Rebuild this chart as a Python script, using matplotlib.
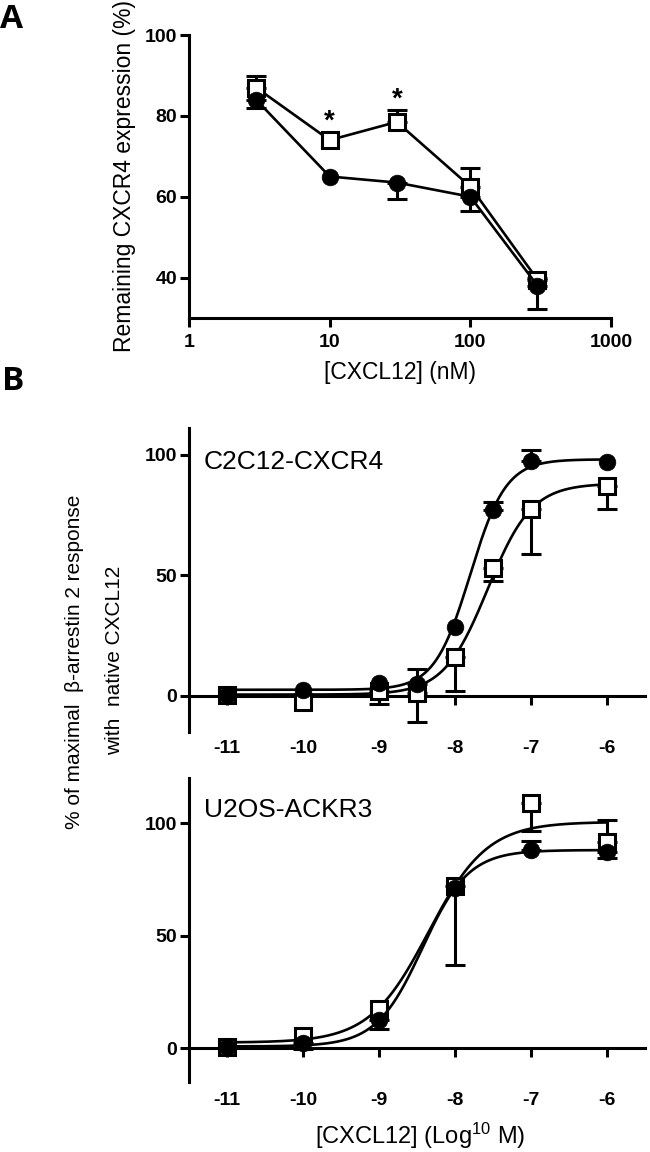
import numpy as np
import matplotlib
matplotlib.use("Agg")
import matplotlib.pyplot as plt
from matplotlib import font_manager

# ---------------- data ----------------
# Panel A
a_conc = [3, 10, 30, 100, 300]
a_sq = [87, 74, 78.5, 62.5, 39.5]
a_sq_hi = [2.8, 0, 3, 4.5, 0.5]
a_ci = [84, 65, 63.5, 60, 38]
a_ci_lo = [2, 0, 4, 3.5, 5.8]
a_star_x = [10, 30]
a_star_y = [78.5, 84]
a_xticks = [1, 10, 100, 1000]
a_yticks = [40, 60, 80, 100]

# Panel B top (C2C12-CXCR4)
b1_logc = [-11, -10, -9, -8.5, -8, -7.5, -7, -6]
b1_ci = [0.5, 2.5, 5.5, 5, 28.5, 77, 97.5, 97]
b1_ci_hi = [0, 0, 0, 6, 0, 3.2, 4.5, 0]
b1_sq = [0.5, -2.5, 2, 1, 16, 53, 77.5, 87]
b1_sq_lo = [0, 0, 5.5, 12, 13.8, 5.3, 18.6, 9.5]
# fitted 4PL parameters (bottom, top, logEC50, hill)
b1_ci_fit = (2.5, 98, -7.8, 1.85)
b1_sq_fit = (0.5, 88, -7.57, 1.5)

# Panel B bottom (U2OS-ACKR3)
b2_logc = [-11, -10, -9, -8, -7, -6]
b2_ci = [0.5, 2.5, 12.5, 71, 88, 87]
b2_ci_lo = [0, 3, 4, 0, 0, 2.5]
b2_ci_hi = [0, 0, 0, 0, 4, 0]
b2_sq = [0.5, 5.5, 17.5, 72, 109, 91.5]
b2_sq_lo = [0, 0, 0, 35, 12.5, 0]
b2_sq_hi = [0, 0, 0, 0, 0, 10]
b2_ci_fit = (0.8, 88, -8.43, 1.43)
b2_sq_fit = (2.5, 100.5, -8.35, 1.12)

b_xticks = [-11, -10, -9, -8, -7, -6]
b_yticks = [0, 50, 100]

# ---------------- style ----------------
names = {f.name for f in font_manager.fontManager.ttflist}
FONT = "Liberation Sans" if "Liberation Sans" in names else "DejaVu Sans"
PANEL_FONT = "Open Sans" if "Open Sans" in names else FONT
plt.rcParams["font.family"] = [FONT, "DejaVu Sans"]
plt.rcParams["mathtext.fontset"] = "custom"
plt.rcParams["mathtext.rm"] = FONT
plt.rcParams["mathtext.it"] = FONT + ":italic"
plt.rcParams["mathtext.bf"] = FONT + ":bold"

W, H = 650, 1152
fig = plt.figure(figsize=(W / 100, H / 100), dpi=100)

def add_ax(left, top, right, bottom):
    return fig.add_axes([left / W, 1 - bottom / H, (right - left) / W, (bottom - top) / H])

def ftxt(x, y, s, **kw):
    fig.text(x / W, 1 - y / H, s, **kw)

LW = 2.2
TICKFS = 14
MS_SQ = 11.5
MS_CI = 12

def style(ax):
    for s in ["top", "right"]:
        ax.spines[s].set_visible(False)
    for s in ["left", "bottom"]:
        ax.spines[s].set_linewidth(LW)
    ax.tick_params(width=LW, length=6.5, direction="out", labelsize=TICKFS)
    for lab in ax.get_xticklabels() + ax.get_yticklabels():
        lab.set_fontweight("bold")

def errs(ax, x, y, lo, hi, z):
    x = np.asarray(x, float); y = np.asarray(y, float)
    lo = np.asarray(lo, float); hi = np.asarray(hi, float)
    m = lo > 0
    if m.any():
        ax.errorbar(x[m], y[m], yerr=[lo[m], np.zeros(m.sum())], fmt="none", ecolor="k",
                    elinewidth=LW, capsize=7, capthick=LW, zorder=z)
    m = hi > 0
    if m.any():
        ax.errorbar(x[m], y[m], yerr=[np.zeros(m.sum()), hi[m]], fmt="none", ecolor="k",
                    elinewidth=LW, capsize=7, capthick=LW, zorder=z)

def sq_marks(ax, x, y, z):
    ax.plot(x, y, ls="none", marker="s", ms=MS_SQ, mfc="white", mec="k", mew=LW, zorder=z)

def ci_marks(ax, x, y, z):
    ax.plot(x, y, ls="none", marker="o", ms=MS_CI, mfc="k", mec="k", mew=0.5, zorder=z)

def fourpl(xs, p):
    b, t, x0, h = p
    return b + (t - b) / (1 + 10 ** ((x0 - xs) * h))

# ---------------- Panel A ----------------
axA = add_ax(189, 35, 611, 318)
axA.set_xscale("log")
axA.set_xlim(1, 1000)
axA.set_ylim(30, 100)
axA.plot(a_conc, a_sq, color="k", lw=1.9, zorder=2)
errs(axA, a_conc, a_sq, np.zeros(len(a_sq)), a_sq_hi, 3)
sq_marks(axA, a_conc, a_sq, 4)
axA.plot(a_conc, a_ci, color="k", lw=1.9, zorder=5)
errs(axA, a_conc, a_ci, a_ci_lo, np.zeros(len(a_ci)), 6)
ci_marks(axA, a_conc, a_ci, 7)
axA.set_xticks(a_xticks)
axA.set_xticklabels([str(v) for v in a_xticks])
axA.xaxis.set_minor_locator(matplotlib.ticker.NullLocator())
axA.set_yticks(a_yticks)
style(axA)
axA.tick_params(axis="x", pad=5)
axA.tick_params(axis="y", pad=2)
for xs, ys in zip(a_star_x, a_star_y):
    axA.text(xs, ys, "*", ha="center", va="center", fontsize=20, fontweight="bold")

ftxt(400, 372, "[CXCL12] (nM)", ha="center", va="center", fontsize=16.5)
ftxt(124, 176, "Remaining CXCR4 expression (%)", ha="center", va="center",
     rotation=90, fontsize=16.5)
ftxt(0, 20, "A", ha="left", va="center", fontsize=24, fontweight="bold",
     family=[PANEL_FONT, FONT])

# ---------------- Panel B ----------------
def panelB(ax, xs, ci, ci_lo, ci_hi, sq, sq_lo, sq_hi, fci, fsq, ylim, label, ly):
    ax.set_xlim(-11.5, -5.5)
    ax.set_ylim(*ylim)
    ax.spines["bottom"].set_position(("data", 0))
    grid = np.linspace(xs[0], xs[-1], 400)
    ax.plot(grid, fourpl(grid, fsq), color="k", lw=1.9, zorder=2)
    errs(ax, xs, sq, sq_lo, sq_hi, 3)
    sq_marks(ax, xs, sq, 4)
    ax.plot(grid, fourpl(grid, fci), color="k", lw=1.9, zorder=5)
    errs(ax, xs, ci, ci_lo, ci_hi, 6)
    ci_marks(ax, xs, ci, 7)
    ax.set_xticks(b_xticks)
    ax.set_xticklabels([str(v) for v in b_xticks])
    ax.set_yticks(b_yticks)
    style(ax)
    ax.tick_params(axis="x", pad=25)
    ax.tick_params(axis="y", pad=2)
    ftxt(204, ly, label, ha="left", va="center", fontsize=19)

axB1 = add_ax(189, 428, 645, 732)
panelB(axB1, b1_logc, b1_ci, np.zeros(len(b1_ci)), b1_ci_hi, b1_sq, b1_sq_lo,
       np.zeros(len(b1_sq)), b1_ci_fit, b1_sq_fit, (-15, 111), "C2C12-CXCR4", 462)

axB2 = add_ax(189, 778, 645, 1082)
panelB(axB2, b2_logc, b2_ci, b2_ci_lo, b2_ci_hi, b2_sq, b2_sq_lo, b2_sq_hi,
       b2_ci_fit, b2_sq_fit, (-15, 120), "U2OS-ACKR3", 810)

ftxt(420, 1136, r"[CXCL12] (Log$^{\mathrm{10}}$ M)", ha="center", va="center", fontsize=17)
ykw = dict(fontsize=15)
ftxt(75, 662, "% of maximal  \u03b2-arrestin 2 response", ha="center", va="center",
     rotation=90, **ykw)
ftxt(115, 660, "with  native CXCL12", ha="center", va="center", rotation=90, **ykw)
ftxt(2, 382, "B", ha="left", va="center", fontsize=24, fontweight="bold",
     family=[PANEL_FONT, FONT])

fig.savefig("out.png", dpi=100)
